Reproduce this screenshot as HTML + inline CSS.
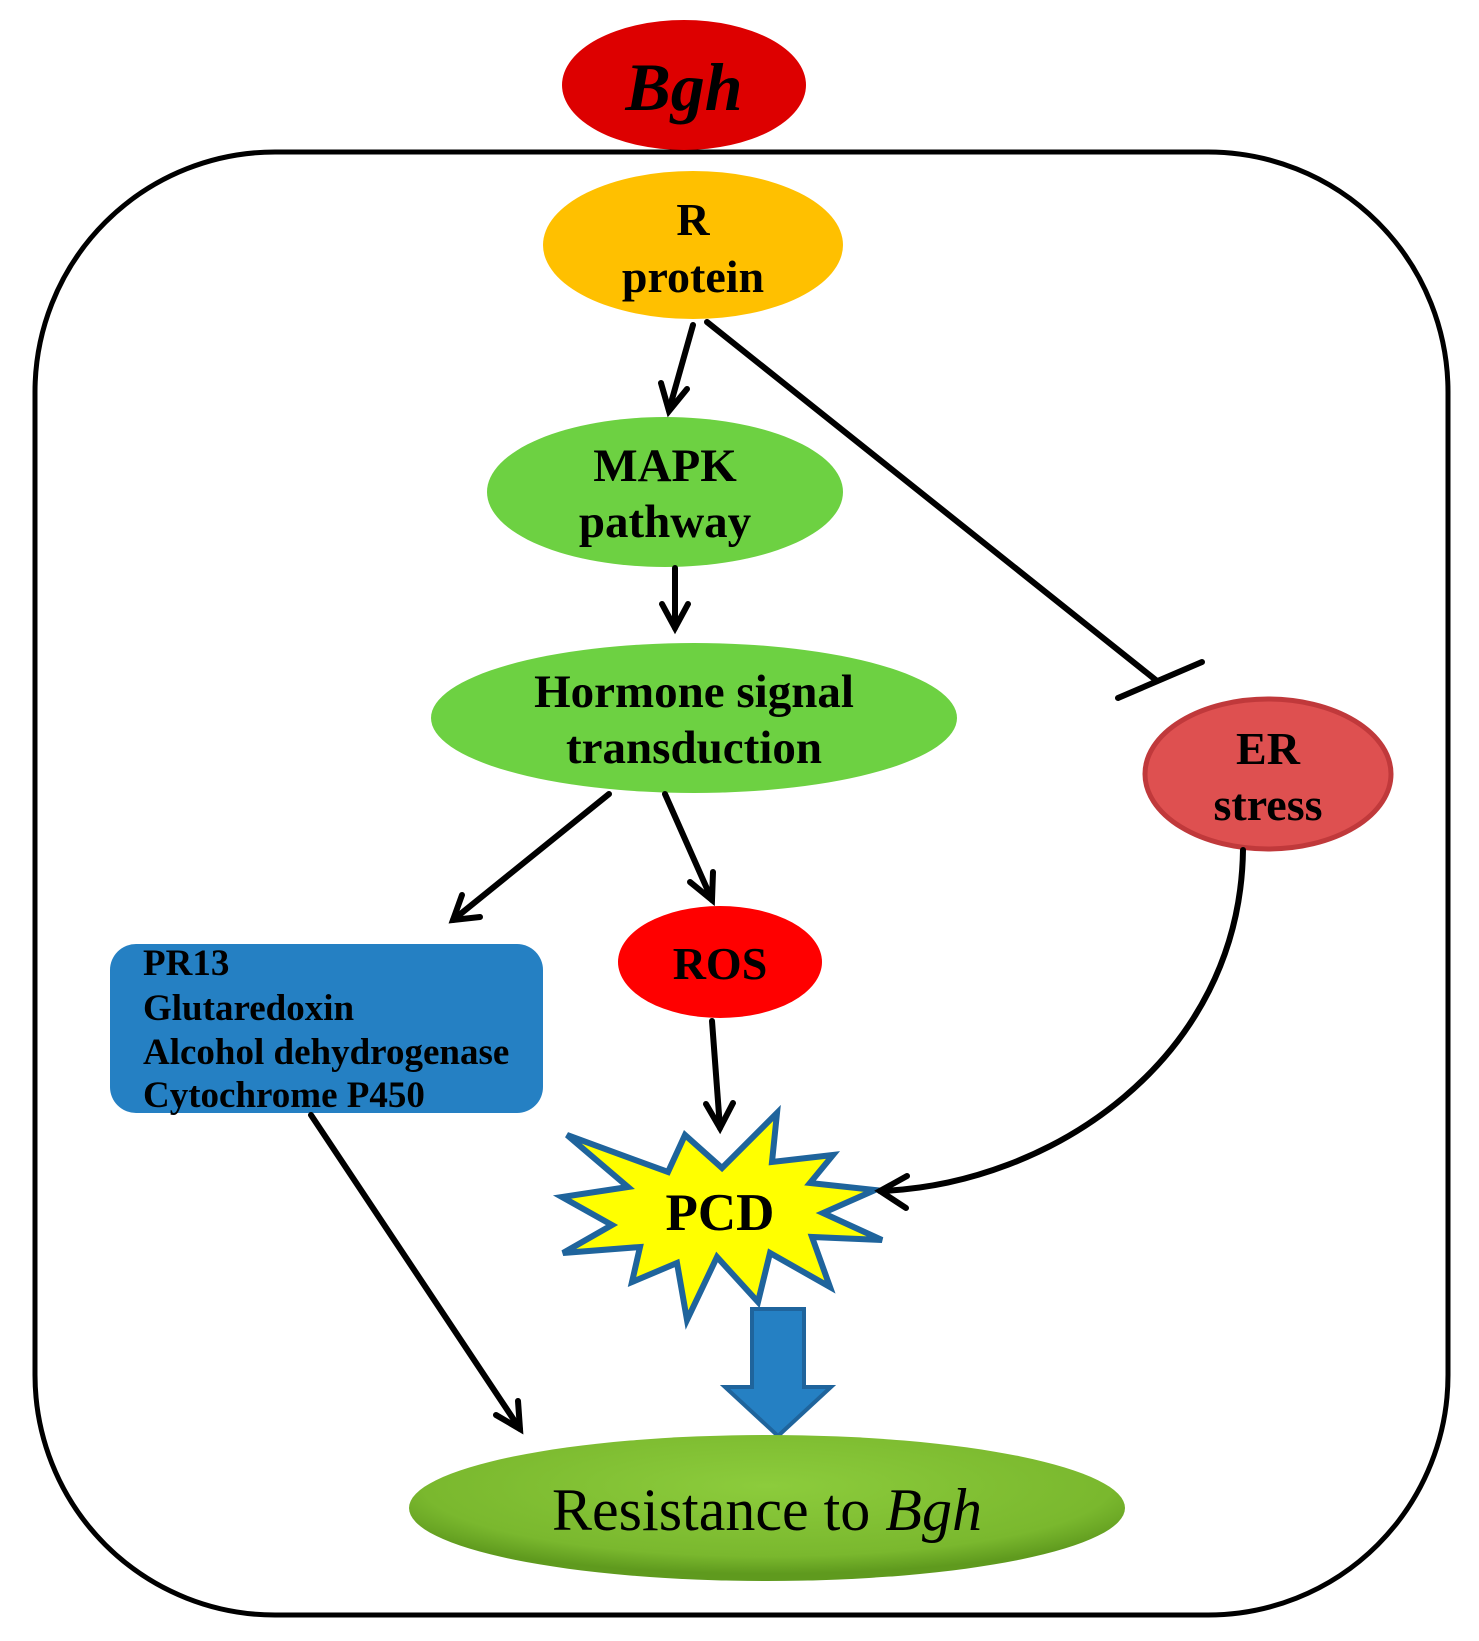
<!DOCTYPE html>
<html><head><meta charset="utf-8"><style>
html,body{margin:0;padding:0;background:#fff}
svg{display:block}
text{font-family:"Liberation Serif",serif;font-weight:bold;fill:#000}
</style></head><body>
<svg width="1479" height="1641" viewBox="0 0 1479 1641" xmlns="http://www.w3.org/2000/svg">
<defs>
<radialGradient id="rg" cx="0.5" cy="0.35" r="0.6">
<stop offset="0" stop-color="#8ccc3c"/><stop offset="0.8" stop-color="#7ab82e"/><stop offset="1" stop-color="#5f9a1e"/>
</radialGradient>
</defs>
<rect x="35" y="152" width="1413" height="1463" rx="240" ry="240" fill="none" stroke="#000" stroke-width="5"/>
<ellipse cx="684" cy="85" rx="122" ry="65" fill="#dd0000"/>
<text x="684" y="110" font-size="68" font-style="italic" text-anchor="middle">Bgh</text>
<ellipse cx="693" cy="245" rx="150" ry="74" fill="#ffc000"/>
<text x="693" y="235" font-size="46" text-anchor="middle">R</text>
<text x="693" y="292" font-size="46" text-anchor="middle">protein</text>
<ellipse cx="665" cy="492" rx="178" ry="75" fill="#6dd142"/>
<text x="665" y="481" font-size="47" text-anchor="middle">MAPK</text>
<text x="665" y="537" font-size="47" text-anchor="middle">pathway</text>
<ellipse cx="694" cy="718" rx="263" ry="75" fill="#6dd142"/>
<text x="694" y="707" font-size="47" text-anchor="middle">Hormone signal</text>
<text x="694" y="763" font-size="47" text-anchor="middle">transduction</text>
<ellipse cx="1268" cy="774" rx="123" ry="75" fill="#de5050" stroke="#c0393b" stroke-width="5"/>
<text x="1268" y="764" font-size="46" text-anchor="middle">ER</text>
<text x="1268" y="820" font-size="46" text-anchor="middle">stress</text>
<ellipse cx="720" cy="962" rx="102" ry="56" fill="#ff0000"/>
<text x="720" y="979" font-size="46" text-anchor="middle">ROS</text>
<rect x="110" y="944" width="433" height="169" rx="26" fill="#2580c3"/>
<text x="143" y="975" font-size="37">PR13</text>
<text x="143" y="1020" font-size="37">Glutaredoxin</text>
<text x="143" y="1064" font-size="37">Alcohol dehydrogenase</text>
<text x="143" y="1107" font-size="37">Cytochrome P450</text>
<polygon points="567,1135 668,1172 685,1135 722,1168 777,1113 772,1162 833,1155 810,1183 875,1190 823,1213 882,1240 812,1237 830,1287 770,1253 758,1302 717,1257 687,1320 677,1263 632,1282 640,1247 563,1253 612,1225 562,1197 628,1187" fill="#ffff00" stroke="#1f649c" stroke-width="6" stroke-linejoin="miter"/>
<text x="720" y="1230" font-size="53" text-anchor="middle">PCD</text>
<polygon points="752,1309 804,1309 804,1387 831,1387 778,1436 725,1387 752,1387" fill="#2580c3" stroke="#1f649c" stroke-width="4"/>
<ellipse cx="767" cy="1508" rx="358" ry="73" fill="url(#rg)"/>
<text x="767" y="1530" font-size="60" text-anchor="middle" style="font-weight:normal">Resistance to <tspan font-style="italic">Bgh</tspan></text>
<g stroke="#000" stroke-width="6" fill="none" stroke-linecap="round">
<line x1="693" y1="325" x2="669" y2="410"/><polyline points="661,383 669,411 687,389"/>
<line x1="707" y1="322" x2="1157" y2="681"/><line x1="1118" y1="698" x2="1202" y2="662"/>
<line x1="675" y1="568" x2="675" y2="628"/><polyline points="662,604 675,628 688,604"/>
<line x1="609" y1="794" x2="453" y2="920"/><polyline points="462,895 453,920 480,917"/>
<line x1="665" y1="794" x2="712" y2="900"/><polyline points="690,882 712,900 713,872"/>
<line x1="712" y1="1021" x2="720" y2="1128"/><polyline points="706,1104 720,1128 733,1103"/>
<path d="M1243,850 C1240,1060 1050,1185 880,1191"/><polyline points="907,1176 880,1191 906,1208"/>
<line x1="311" y1="1115" x2="520" y2="1429"/><polyline points="496,1415 520,1429 518,1401"/>
</g>
</svg>
</body></html>
